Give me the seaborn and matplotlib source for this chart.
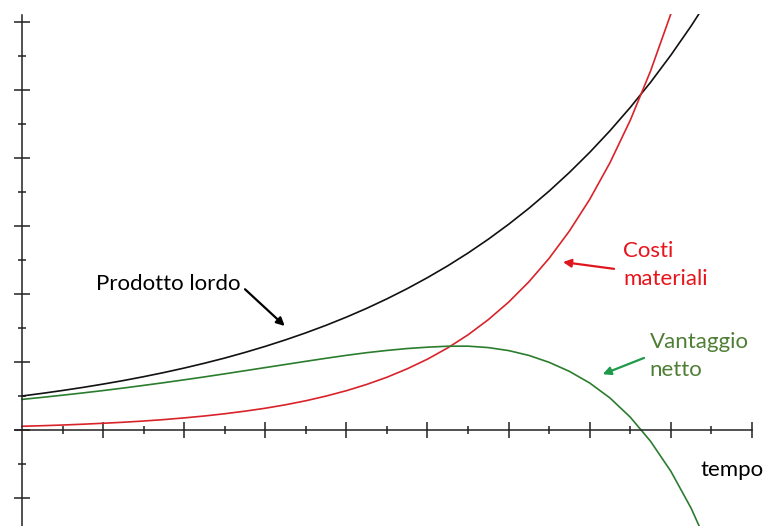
import numpy as np
import pandas as pd
import seaborn as sns
import matplotlib
matplotlib.use("Agg")
import matplotlib.pyplot as plt
from matplotlib.patches import Rectangle

# ---- data (x = tempo, step 0.25) ----
tempo = [0.00, 0.25, 0.50, 0.75, 1.00, 1.25, 1.50, 1.75, 2.00, 2.25, 2.50, 2.75,
         3.00, 3.25, 3.50, 3.75, 4.00, 4.25, 4.50, 4.75, 5.00, 5.25, 5.50, 5.75,
         6.00, 6.25, 6.50, 6.75, 7.00, 7.25, 7.50, 7.75, 8.00, 8.25, 8.50]
prodotto_lordo = [0.500, 0.539, 0.581, 0.626, 0.675, 0.727, 0.784, 0.845, 0.911,
                  0.982, 1.058, 1.141, 1.230, 1.326, 1.429, 1.540, 1.660, 1.789,
                  1.929, 2.079, 2.241, 2.415, 2.603, 2.806, 3.025, 3.260, 3.514,
                  3.788, 4.083, 4.401, 4.744, 5.113, 5.512, 5.941, 6.404]
costi_materiali = [0.055, 0.063, 0.073, 0.085, 0.099, 0.114, 0.132, 0.153, 0.178,
                   0.206, 0.239, 0.277, 0.320, 0.371, 0.430, 0.499, 0.578, 0.670,
                   0.776, 0.900, 1.042, 1.208, 1.400, 1.623, 1.880, 2.179, 2.525,
                   2.927, 3.392, 3.931, 4.555, 5.279, 6.118, 7.090, 8.216]
vantaggio_netto = [0.450, 0.480, 0.512, 0.545, 0.580, 0.617, 0.656, 0.696, 0.738,
                   0.781, 0.826, 0.872, 0.918, 0.964, 1.010, 1.055, 1.098, 1.137,
                   1.170, 1.198, 1.218, 1.232, 1.233, 1.212, 1.168, 1.097, 0.995,
                   0.862, 0.691, 0.471, 0.189, -0.166, -0.606, -1.149, -1.812]

x_major = [1, 2, 3, 4, 5, 6, 7, 8, 9]
x_minor = [0.5, 1.5, 2.5, 3.5, 4.5, 5.5, 6.5, 7.5, 8.5]
y_major = [-1, 0, 1, 2, 3, 4, 5, 6]
y_minor = [-0.5, 0.5, 1.5, 2.5, 3.5, 4.5, 5.5]

df = pd.DataFrame({"tempo": tempo, "lordo": prodotto_lordo,
                   "costi": costi_materiali, "netto": vantaggio_netto})

sns.set_style("white")
plt.rcParams["font.family"] = ["Lato", "DejaVu Sans"]

fig = plt.figure(figsize=(7.64, 5.26), dpi=100)
ax = fig.add_axes([0, 0, 1, 1])
ax.set_xlim(-0.271, 9.149)
ax.set_ylim(-1.412, 6.324)

BLACK = "#111111"
RED = "#d9232a"
GREEN = "#2b7d2e"

sns.lineplot(data=df, x="tempo", y="lordo", color=BLACK, linewidth=1.2, ax=ax)
sns.lineplot(data=df, x="tempo", y="costi", color=RED, linewidth=1.2, ax=ax)
sns.lineplot(data=df, x="tempo", y="netto", color=GREEN, linewidth=1.2, ax=ax)

clip = Rectangle((-0.3, -1.6), 9.6, 6.12 + 1.6, transform=ax.transData)
for ln in ax.lines:
    ln.set_clip_path(clip)
    ln.set_solid_joinstyle("round")

# axes as crossing lines
for s in ["top", "right"]:
    ax.spines[s].set_visible(False)
ax.spines["left"].set_position(("data", 0))
ax.spines["bottom"].set_position(("data", 0))
ax.spines["left"].set_bounds(-1.5, 6.1)
ax.spines["bottom"].set_bounds(-0.09, 9.0)
for s in ["left", "bottom"]:
    ax.spines[s].set_color("#222222")
    ax.spines[s].set_linewidth(1.1)

ax.set_xticks(x_major)
ax.set_xticks(x_minor, minor=True)
ax.set_yticks(y_major)
ax.set_yticks(y_minor, minor=True)
ax.set_xticklabels([])
ax.set_yticklabels([])
ax.tick_params(which="both", bottom=True, left=True, top=False, right=False,
               labelbottom=False, labelleft=False)
ax.tick_params(which="major", direction="inout", length=11, width=1.1, color="#222222")
ax.tick_params(which="minor", direction="inout", length=5.5, width=1.1, color="#222222")
ax.set_xlabel("")
ax.set_ylabel("")

fs = 16
ax.text(0.912, 2.06, "Prodotto lordo", fontsize=fs, color="black", va="baseline", ha="left")
ax.annotate("", xy=(3.24, 1.53), xytext=(2.75, 2.07),
            arrowprops=dict(arrowstyle="-|>", color="black", lw=1.6, mutation_scale=12,
                            shrinkA=0, shrinkB=0))

ax.text(7.41, 2.54, "Costi", fontsize=fs, color="#e8141c", va="baseline", ha="left")
ax.text(7.41, 2.13, "materiali", fontsize=fs, color="#e8141c", va="baseline", ha="left")
ax.annotate("", xy=(6.67, 2.47), xytext=(7.30, 2.37),
            arrowprops=dict(arrowstyle="-|>", color="#e0161e", lw=1.6, mutation_scale=12,
                            shrinkA=0, shrinkB=0))

ax.text(7.74, 1.21, "Vantaggio", fontsize=fs, color="#4f7f35", va="baseline", ha="left")
ax.text(7.74, 0.79, "netto", fontsize=fs, color="#4f7f35", va="baseline", ha="left")
ax.annotate("", xy=(7.16, 0.82), xytext=(7.67, 1.06),
            arrowprops=dict(arrowstyle="-|>", color="#1f9a4a", lw=1.6, mutation_scale=12,
                            shrinkA=0, shrinkB=0))

ax.text(8.37, -0.68, "tempo", fontsize=fs, color="black", va="baseline", ha="left")

fig.savefig("out.png", dpi=100)
